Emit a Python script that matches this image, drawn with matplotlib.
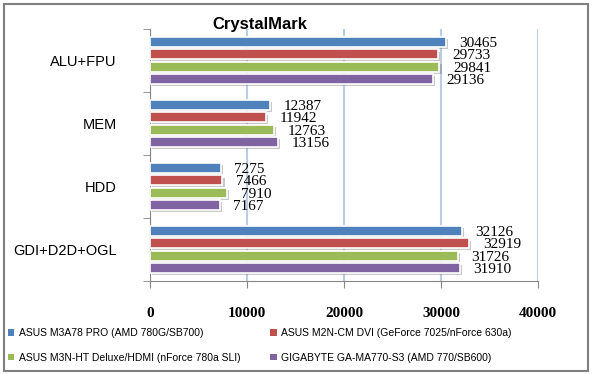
import numpy as np
import matplotlib.pyplot as plt
from matplotlib.patches import Rectangle
import matplotlib.patheffects as pe

categories = ["ALU+FPU", "MEM", "HDD", "GDI+D2D+OGL"]
series_names = [
    "ASUS M3A78 PRO (AMD 780G/SB700)",
    "ASUS M2N-CM DVI (GeForce 7025/nForce 630a)",
    "ASUS M3N-HT Deluxe/HDMI (nForce 780a SLI)",
    "GIGABYTE GA-MA770-S3 (AMD 770/SB600)",
]
m3a78 = [30465, 12387, 7275, 32126]
m2ncm = [29733, 11942, 7466, 32919]
m3nht = [29841, 12763, 7910, 31726]
ga770 = [29136, 13156, 7167, 31910]
series = [m3a78, m2ncm, m3nht, ga770]
colors = ["#4F81BD", "#C0504D", "#9BBB59", "#8064A2"]

W, H = 593, 375
fig = plt.figure(figsize=(W / 100, H / 100), dpi=100)
ax = fig.add_axes([150 / W, 1 - 281 / H, (538 - 150) / W, (281 - 29) / H])

y = np.arange(len(categories))
step = 0.195
shadow = [pe.SimplePatchShadow(offset=(1.5, -1.5), shadow_rgbFace="#777777", alpha=0.4), pe.Normal()]
for k, (vals, c) in enumerate(zip(series, colors)):
    pos = y + (k - 1.5) * step
    ax.barh(pos, vals, height=0.155, color=c, edgecolor="white", linewidth=1.2,
            zorder=3, path_effects=shadow)
    for p, v in zip(pos, vals):
        ax.annotate(str(v), (v, p), xytext=(10, -1), textcoords="offset points",
                    ha="left", va="center", fontsize=11, family="Liberation Serif", zorder=4)

ax.set_xlim(0, 40000)
ax.set_ylim(len(categories) - 0.5, -0.5)
ax.set_xticks([0, 10000, 20000, 30000, 40000])
ax.set_xticklabels(["0", "10000", "20000", "30000", "40000"],
                   fontsize=11, family="Liberation Serif", fontweight="bold")
ax.tick_params(axis="x", length=5, color="#868686", pad=14)
ax.xaxis.grid(True, color="#B9CDE5", linewidth=1.5, zorder=0)
ax.set_axisbelow(True)

ax.set_yticks(y)
ax.set_yticklabels(categories, fontsize=10.5, family="Liberation Sans")
ax.tick_params(axis="y", which="major", length=0, pad=24)
ax.set_yticks(np.arange(len(categories) + 1) - 0.5, minor=True)
ax.tick_params(axis="y", which="minor", length=5, color="#868686")

for s in ["top", "right"]:
    ax.spines[s].set_visible(False)
for s in ["left", "bottom"]:
    ax.spines[s].set_color("#868686")

fig.text(260 / W, 1 - 24 / H, "CrystalMark", ha="center", va="center",
         fontsize=12, fontweight="bold", family="Liberation Sans")

# legend fills column by column, so order for rows: blue/red, green/purple
order = [0, 2, 1, 3]
proxies = [Rectangle((0, 0), 1, 1, facecolor=colors[i], edgecolor="none") for i in order]
fig.legend(proxies, [series_names[i] for i in order], loc="upper left",
           bbox_to_anchor=(4 / W, 1 - 324 / H), ncol=2, frameon=False,
           prop={"family": "Liberation Sans", "size": 7.5},
           handlelength=0.6, handleheight=0.6, handletextpad=0.4, columnspacing=2.9,
           labelspacing=1.4, borderaxespad=0)

fig.patches.append(Rectangle((4 / W, 4 / H), 584 / W, 367 / H, transform=fig.transFigure,
                             fill=False, edgecolor="#808080", linewidth=1.5))

fig.savefig("out.png", dpi=100)
